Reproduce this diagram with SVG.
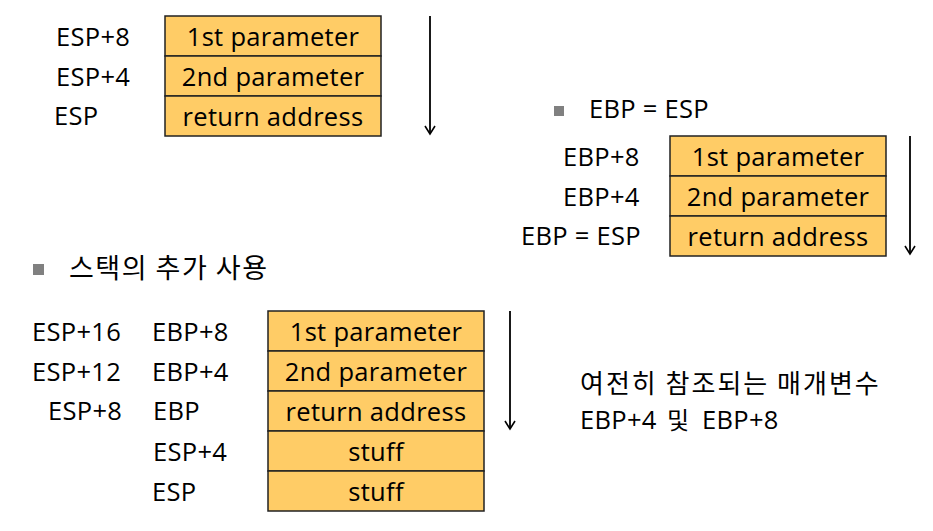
<svg xmlns="http://www.w3.org/2000/svg" width="933" height="531" viewBox="0 0 933 531">
<defs>
<marker id="ah" markerWidth="12" markerHeight="12" viewBox="0 0 12 12" refX="10" refY="6" orient="auto" markerUnits="userSpaceOnUse">
<polyline points="2,1 10,6 2,11" fill="none" stroke="#000" stroke-width="1.6"/>
</marker>
</defs>
<style>
text{font-family:"Open Sans","Noto Sans CJK KR",sans-serif;font-size:25.5px;fill:#000;letter-spacing:0.3px}
.ko{font-family:"Noto Sans CJK KR",sans-serif;font-size:27px;letter-spacing:1.5px}
.ko2{font-family:"Noto Sans CJK KR",sans-serif;font-size:26px;letter-spacing:2px}
.c{text-anchor:middle}
rect.b{fill:#FFCC66;stroke:#222;stroke-width:1.5}
rect.bul{fill:#808080}
.arr{stroke:#000;stroke-width:1.8;fill:none}
</style>
<rect width="933" height="531" fill="#fff"/>

<g id="stack1">
<rect class="b" x="165" y="16" width="216" height="40"/>
<rect class="b" x="165" y="56" width="216" height="40"/>
<rect class="b" x="165" y="96" width="216" height="40"/>
<text class="c" x="273" y="46">1st parameter</text>
<text class="c" x="273" y="86">2nd parameter</text>
<text class="c" x="273" y="126">return address</text>
<text x="56" y="46">ESP+8</text>
<text x="56" y="86">ESP+4</text>
<text x="54" y="125">ESP</text>
</g>

<g id="stack2">
<rect class="bul" x="554" y="106" width="10" height="10"/>
<text x="589" y="118">EBP = ESP</text>
<rect class="b" x="670" y="136" width="216" height="40"/>
<rect class="b" x="670" y="176" width="216" height="40"/>
<rect class="b" x="670" y="216" width="216" height="40"/>
<text class="c" x="778" y="166">1st parameter</text>
<text class="c" x="778" y="206">2nd parameter</text>
<text class="c" x="778" y="246">return address</text>
<text x="563" y="166">EBP+8</text>
<text x="563" y="206">EBP+4</text>
<text x="521" y="245">EBP = ESP</text>
</g>

<g id="stack3">
<rect class="bul" x="33" y="264" width="11" height="11"/>
<text class="ko" x="69" y="278">스택의 추가 사용</text>
<rect class="b" x="268" y="311" width="216" height="40"/>
<rect class="b" x="268" y="351" width="216" height="40"/>
<rect class="b" x="268" y="391" width="216" height="40"/>
<rect class="b" x="268" y="431" width="216" height="40"/>
<rect class="b" x="268" y="471" width="216" height="40"/>
<text class="c" x="376" y="341">1st parameter</text>
<text class="c" x="376" y="381">2nd parameter</text>
<text class="c" x="376" y="421">return address</text>
<text class="c" x="376" y="461">stuff</text>
<text class="c" x="376" y="501">stuff</text>
<text x="32" y="341">ESP+16</text>
<text x="152" y="341">EBP+8</text>
<text x="32" y="381">ESP+12</text>
<text x="152" y="381">EBP+4</text>
<text x="48" y="420">ESP+8</text>
<text x="153" y="420">EBP</text>
<text x="153" y="461">ESP+4</text>
<text x="152" y="501">ESP</text>
</g>

<g id="note">
<text class="ko2" x="580" y="393">여전히 참조되는 매개변수</text>
<text x="580" y="429">EBP+4</text>
<text class="ko2" x="667" y="429" style="font-size:24px">및</text>
<text x="702" y="429">EBP+8</text>
</g>

<g id="connectors">
<line class="arr" x1="430" y1="16" x2="430" y2="134" marker-end="url(#ah)"/>
<line class="arr" x1="910" y1="136" x2="910" y2="254" marker-end="url(#ah)"/>
<line class="arr" x1="510" y1="311" x2="510" y2="429" marker-end="url(#ah)"/>
</g>
</svg>
